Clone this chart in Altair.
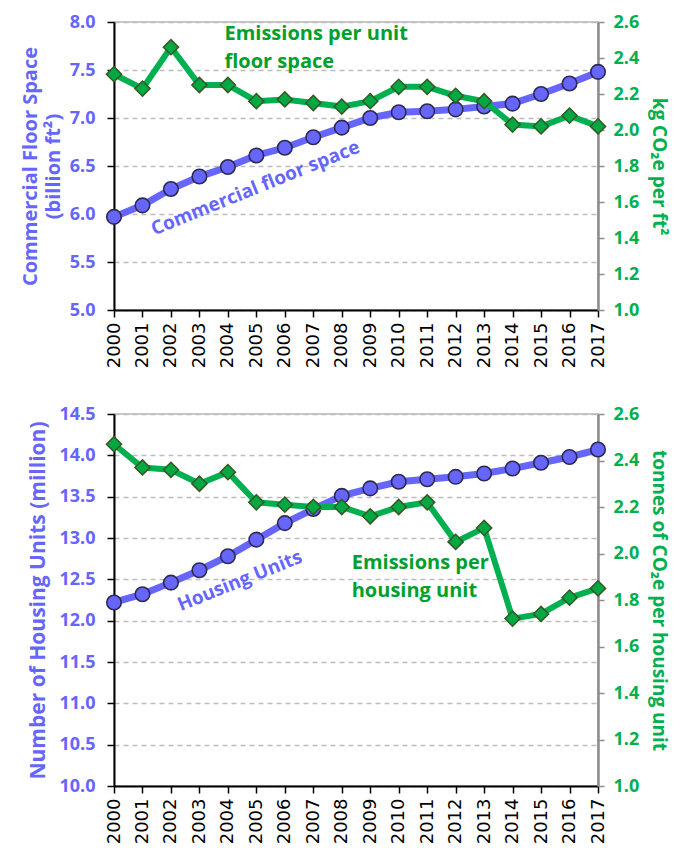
import altair as alt
import pandas as pd

# ---------------- data ----------------
years = list(range(2000, 2018))

# top panel
floor_space = [5.97, 6.09, 6.26, 6.39, 6.49, 6.61, 6.69, 6.80, 6.90, 7.00,
               7.06, 7.07, 7.09, 7.12, 7.15, 7.25, 7.36, 7.48]
floor_emis = [2.31, 2.23, 2.46, 2.25, 2.25, 2.16, 2.17, 2.15, 2.13, 2.16,
              2.24, 2.24, 2.19, 2.16, 2.03, 2.02, 2.08, 2.02]

# bottom panel
housing_units = [12.22, 12.32, 12.46, 12.61, 12.78, 12.98, 13.18, 13.35, 13.51, 13.60,
                 13.68, 13.71, 13.74, 13.78, 13.84, 13.91, 13.98, 14.07]
housing_emis = [2.47, 2.37, 2.36, 2.30, 2.35, 2.22, 2.21, 2.20, 2.20, 2.16,
                2.20, 2.22, 2.05, 2.11, 1.72, 1.74, 1.81, 1.85]

left_ticks_top = [5.0, 5.5, 6.0, 6.5, 7.0, 7.5, 8.0]
right_ticks = [1.0, 1.2, 1.4, 1.6, 1.8, 2.0, 2.2, 2.4, 2.6]
left_ticks_bottom = [10.0, 10.5, 11.0, 11.5, 12.0, 12.5, 13.0, 13.5, 14.0, 14.5]

# annotation labels (anchored in data units)
top_blue_note = ["Commercial floor space"]
top_blue_note_year = [2004.97]
top_blue_note_val = [6.27]
top_green_note = ["Emissions per unit", "floor space"]
top_green_note_year = [2003.88, 2003.88]
top_green_note_val = [2.533, 2.378]

bot_blue_note = ["Housing Units"]
bot_blue_note_year = [2004.42]
bot_blue_note_val = [12.48]
bot_green_note = ["Emissions per", "housing unit"]
bot_green_note_year = [2008.35, 2008.35]
bot_green_note_val = [1.959, 1.838]

# ---------------- styles ----------------
BLUE = "#6666FF"
BLUE_EDGE = "#2D2A50"
GREEN_LINE = "#00B050"
GREEN_FILL = "#00A844"
GREEN_EDGE = "#385723"
GREEN_TEXT = "#00A02A"
GREEN_AXIS = "#00B050"
FONT = "Open Sans"


def panel(df, lf, rf, ldom, lticks, ltitle, rtitle, bnotes, gnotes, w, h,
          ltitle_pad, ltitle_size):
    xenc = alt.X(
        "year:Q",
        scale=alt.Scale(domain=[2000, 2017], nice=False, zero=False),
        axis=alt.Axis(
            values=years, format="d", title=None, grid=False,
            labelAngle=270, labelFont="DejaVu Sans", labelFontSize=18,
            labelColor="#000000", labelPadding=5,
            domainColor="#000000", domainWidth=2,
            tickColor="#000000", tickSize=7, tickWidth=1.5,
            labelOverlap=False,
        ),
    )
    yl = alt.Y(
        f"{lf}:Q",
        scale=alt.Scale(domain=ldom, nice=False, zero=False),
        axis=alt.Axis(
            values=lticks, format=".1f", title=ltitle,
            titleFont=FONT, titleFontSize=ltitle_size, titleFontWeight="bold",
            titleColor=BLUE, titlePadding=ltitle_pad,
            titleLineHeight=23,
            labelFont=FONT, labelFontSize=18, labelFontWeight="bold",
            labelColor=BLUE, labelPadding=12,
            domainColor="#000000", domainWidth=2,
            tickColor="#000000", tickSize=7, tickWidth=1.5,
            grid=True, gridColor="#BDBDBD", gridDash=[5, 4], gridWidth=1.3,
        ),
    )
    yr = alt.Y(
        f"{rf}:Q",
        scale=alt.Scale(domain=[1.0, 2.6], nice=False, zero=False),
        axis=alt.Axis(
            orient="right", values=right_ticks, format=".1f", title=rtitle,
            titleFont=FONT, titleFontSize=19, titleFontWeight="bold",
            titleColor=GREEN_AXIS, titlePadding=10,
            labelFont=FONT, labelFontSize=18, labelFontWeight="bold",
            labelColor=GREEN_AXIS, labelPadding=9,
            domainColor="#8C8C8C", domainWidth=2.5,
            tickColor="#8C8C8C", tickSize=6, tickWidth=1.5,
            grid=False,
        ),
    )

    base = alt.Chart(df)
    blue_line = base.mark_line(color=BLUE, strokeWidth=7).encode(x=xenc, y=yl)
    blue_pts = base.mark_point(
        shape="circle", filled=True, fill=BLUE, stroke=BLUE_EDGE,
        strokeWidth=1.6, size=210, opacity=1,
    ).encode(x=xenc, y=yl)
    bdf = pd.DataFrame({"year": bnotes[1], lf: bnotes[2], "label": bnotes[0]})
    blue_txt = alt.Chart(bdf).mark_text(
        font=FONT, fontSize=19, fontWeight="bold", color=BLUE,
        angle=338, align="center", baseline="middle",
    ).encode(x=xenc, y=yl, text="label:N")

    green_line = base.mark_line(color=GREEN_LINE, strokeWidth=6).encode(x=xenc, y=yr)
    green_pts = base.mark_point(
        shape="diamond", filled=True, fill=GREEN_FILL, stroke=GREEN_EDGE,
        strokeWidth=1.5, size=230, opacity=1,
    ).encode(x=xenc, y=yr)
    gdf = pd.DataFrame({"year": gnotes[1], rf: gnotes[2], "label": gnotes[0]})
    green_txt = alt.Chart(gdf).mark_text(
        font=FONT, fontSize=20, fontWeight="bold", color=GREEN_TEXT,
        align="left", baseline="middle",
    ).encode(x=xenc, y=yr, text="label:N")

    blue = alt.layer(blue_line, blue_pts, blue_txt)
    green = alt.layer(green_line, green_pts, green_txt)
    return alt.layer(blue, green).resolve_scale(y="independent").properties(
        width=w, height=h
    )


df_top = pd.DataFrame({"year": years, "floor": floor_space, "femis": floor_emis})
df_bot = pd.DataFrame({"year": years, "units": housing_units, "hemis": housing_emis})

top = panel(
    df_top, "floor", "femis", [5.0, 8.0], left_ticks_top,
    ["Commercial Floor Space", "(billion ft²)"], "kg CO₂e per ft²",
    (top_blue_note, top_blue_note_year, top_blue_note_val),
    (top_green_note, top_green_note_year, top_green_note_val),
    484, 288, 6, 20,
)
bottom = panel(
    df_bot, "units", "hemis", [10.0, 14.5], left_ticks_bottom,
    "Number of Housing Units (million)", "tonnes of CO₂e per housing unit",
    (bot_blue_note, bot_blue_note_year, bot_blue_note_val),
    (bot_green_note, bot_green_note_year, bot_green_note_val),
    484, 372, 10, 21,
)

chart = alt.vconcat(top, bottom, spacing=35).properties(
    padding={"left": 11, "top": 4, "right": 6, "bottom": 0}
).configure_view(stroke="#C8C8C8", strokeWidth=2)

chart.save("out.html", embed_options={"renderer": "svg", "actions": False})
